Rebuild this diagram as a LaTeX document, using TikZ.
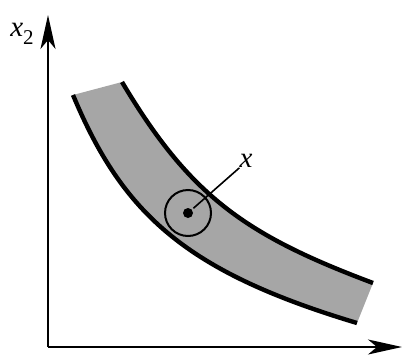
\documentclass[tikz,border=0pt]{standalone}
\usepackage{fontspec}
\setmainfont{Liberation Serif}
\usetikzlibrary{arrows.meta}

\begin{document}
\begin{tikzpicture}[x=1pt, y=-1pt,
    axis/.style={-{Stealth[length=34pt, width=15pt, inset=9pt]}, line width=1.9pt},
    edge/.style={line width=4.4pt},
    band/.style={fill=black!35},
    lbl/.style={font=\fontsize{29}{31}\selectfont, inner sep=0pt}
]
\useasboundingbox (0,0) rectangle (403,356);

\coordinate (o) at (48,347);
\coordinate (ytip) at (48,15);
\coordinate (xtip) at (402,347);
\draw[axis] (o) -- (ytip);
\draw[axis] (o) -- (xtip);
\node[lbl] (xtwo) at (22,34) {\itshape x\raisebox{-0.28em}{\upshape\fontsize{21}{23}\selectfont 2}};

\fill[band] (73,95) .. controls (123,215) and (187,272) .. (357,323)
    -- (373,283) .. controls (245,235) and (190,196) .. (122,82) -- cycle;
\draw[edge] (73,95) .. controls (123,215) and (187,272) .. (357,323);
\draw[edge] (122,82) .. controls (190,196) and (245,235) .. (373,283);

\node[draw, circle, minimum size=46pt, line width=2pt] (nbhd) at (188,213) {};
\node[fill, circle, minimum size=10pt, inner sep=0pt] (pt) at (188,213) {};
\node[lbl] (xlbl) at (246,161) {\itshape x};
\draw[line width=1.6pt, shorten <=2pt] (pt) -- (xlbl.south west);
\end{tikzpicture}
\end{document}
